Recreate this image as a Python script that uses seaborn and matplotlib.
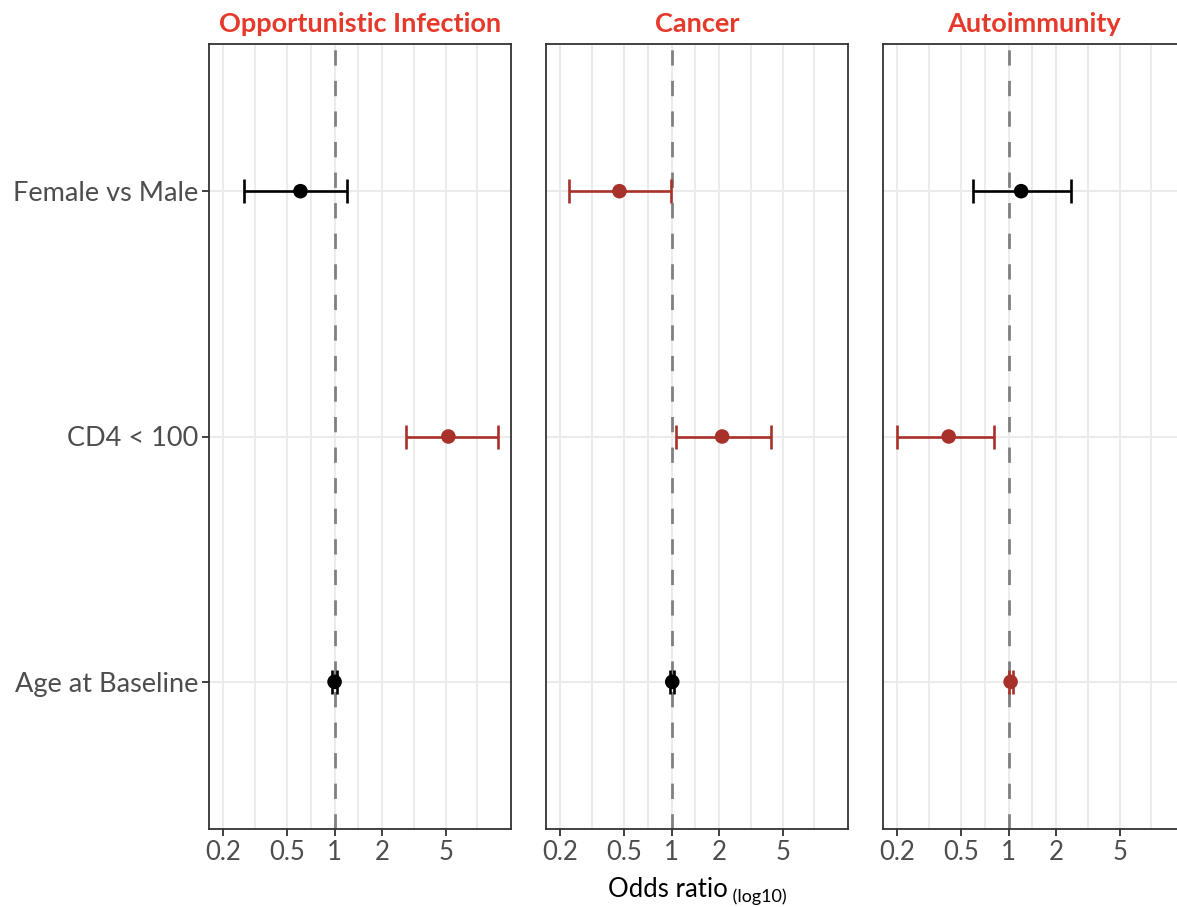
import numpy as np
import pandas as pd
import matplotlib
matplotlib.use("Agg")
import matplotlib.pyplot as plt
import seaborn as sns

# ---- data ----
categories = ["Female vs Male", "CD4 < 100", "Age at Baseline"]
panels = ["Opportunistic Infection", "Cancer", "Autoimmunity"]

or_infection = [0.61, 5.2, 1.0]
lo_infection = [0.27, 2.8, 0.97]
hi_infection = [1.20, 10.7, 1.03]
sig_infection = [False, True, False]

or_cancer = [0.47, 2.08, 1.01]
lo_cancer = [0.225, 1.06, 0.98]
hi_cancer = [0.99, 4.25, 1.04]
sig_cancer = [True, True, False]

or_autoimm = [1.20, 0.42, 1.03]
lo_autoimm = [0.60, 0.198, 1.00]
hi_autoimm = [2.46, 0.81, 1.06]
sig_autoimm = [False, True, True]

x_ticks = [0.2, 0.5, 1, 2, 5]
x_ticklabels = ["0.2", "0.5", "1", "2", "5"]

rows = []
for p, o, l, h, s in zip(panels,
                         [or_infection, or_cancer, or_autoimm],
                         [lo_infection, lo_cancer, lo_autoimm],
                         [hi_infection, hi_cancer, hi_autoimm],
                         [sig_infection, sig_cancer, sig_autoimm]):
    for i, c in enumerate(categories):
        rows.append(dict(panel=p, category=c, ypos=i, OR=o[i], lo=l[i], hi=h[i], sig=s[i]))
df = pd.DataFrame(rows)

# ---- style ----
sns.set_theme(style="white")
plt.rcParams["font.family"] = ["Lato", "DejaVu Sans"]

RED_PT = "#A8322A"
BLACK = "#000000"
TITLE_RED = "#E5392B"
GRID = "#EBEBEB"
TICK_GRAY = "#4D4D4D"

fig = plt.figure(figsize=(11.77, 9.07), dpi=100)
W, H = 1177, 907
lefts = [209, 546, 883]
pw = 302
top, bottom = 44, 829
axes = [fig.add_axes([l / W, (H - bottom) / H, pw / W, (bottom - top) / H]) for l in lefts]

xmin, xmax = 10 ** -0.79, 10 ** 1.11
major = np.log10(x_ticks)
minor_log = list((major[:-1] + major[1:]) / 2) + [major[-1] + (major[-1] - major[-2]) / 2]
minor_vals = [10 ** m for m in minor_log]

for k, (ax, p) in enumerate(zip(axes, panels)):
    d = df[df.panel == p]
    ax.set_xscale("log")
    ax.set_xlim(xmin, xmax)
    ax.set_ylim(2.6, -0.6)
    # grid
    for v in list(x_ticks) + minor_vals:
        ax.axvline(v, color=GRID, lw=1.5, zorder=0)
    for y in range(len(categories)):
        ax.axhline(y, color=GRID, lw=1.5, zorder=0)
    # reference line
    ax.axvline(1, color="#808080", lw=2.0, ls=(0, (5.5, 5.5)), zorder=1)
    # error bars
    for _, r in d.iterrows():
        col = RED_PT if r.sig else BLACK
        ax.errorbar(r.OR, r.ypos, xerr=[[r.OR - r.lo], [r.hi - r.OR]], fmt="none",
                    ecolor=col, elinewidth=1.9, capsize=8.3, capthick=1.9, zorder=2)
    sns.scatterplot(data=d, x="OR", y="ypos", hue="sig",
                    palette={True: RED_PT, False: BLACK}, s=110, edgecolor="none",
                    legend=False, ax=ax, zorder=3)
    ax.set_xlabel("")
    ax.set_ylabel("")
    ax.set_xticks(x_ticks)
    ax.set_xticklabels(x_ticklabels)
    ax.xaxis.set_minor_locator(matplotlib.ticker.NullLocator())
    ax.tick_params(axis="x", which="major", length=5, width=1.3, color="#333333",
                   labelsize=18.5, labelcolor=TICK_GRAY, pad=3, bottom=True)
    ax.set_yticks(range(len(categories)))
    if k == 0:
        ax.set_yticklabels(categories)
        ax.tick_params(axis="y", length=5, width=1.3, color="#333333",
                       labelsize=19.5, labelcolor=TICK_GRAY, pad=3, left=True)
    else:
        ax.set_yticklabels([])
        ax.tick_params(axis="y", length=0, left=False)
    for s in ax.spines.values():
        s.set_color("#333333")
        s.set_linewidth(1.3)
    ax.set_title(p, color=TITLE_RED, fontsize=19.5, fontweight="bold", pad=9)

# x label with subscript
cx = (lefts[1] + pw / 2) / W
t1 = fig.text(0, 0, "Odds ratio", fontsize=18.5, color="black")
t2 = fig.text(0, 0, " (log10)", fontsize=13, color="black")
fig.canvas.draw()
r = fig.canvas.get_renderer()
w1 = t1.get_window_extent(r).width
w2 = t2.get_window_extent(r).width
x0 = cx * W - (w1 + w2) / 2
t1.set_position((x0 / W, (H - 897) / H))
t2.set_position(((x0 + w1) / W, (H - 902) / H))

fig.savefig("out.png", dpi=100)
